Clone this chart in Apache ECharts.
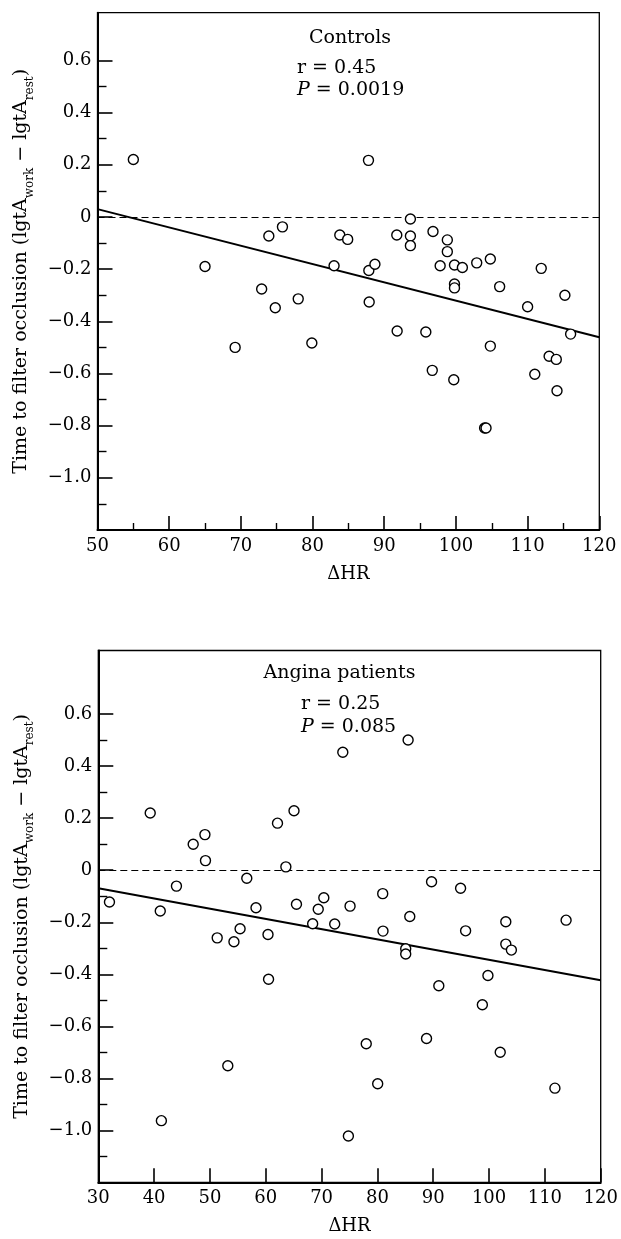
<!DOCTYPE html>
<html><head><meta charset="utf-8">
<script src="https://cdn.jsdelivr.net/npm/echarts@6/dist/echarts.min.js"></script>
<style>html,body{margin:0;padding:0;background:#fff}#c{width:621px;height:1239px}</style>
</head><body><div id="c"></div>
<script>
// ---- Controls panel data ----
const controlsHR = [55,65,69.2,72.9,73.9,74.8,75.8,78.0,79.9,83.0,83.8,84.9,87.8,87.85,88.7,87.9,91.75,91.8,93.65,93.65,93.65,95.8,96.8,96.7,97.8,98.8,98.8,99.8,100.9,99.8,99.8,99.7,102.9,104.8,104.8,104.0,104.2,106.1,110.0,111.0,111.9,113.0,114.0,114.1,115.2,116.0];
const controlsY = [0.22,-0.19,-0.50,-0.276,-0.073,-0.348,-0.038,-0.314,-0.483,-0.187,-0.069,-0.086,0.217,-0.205,-0.181,-0.326,-0.069,-0.437,-0.008,-0.073,-0.11,-0.441,-0.056,-0.588,-0.187,-0.088,-0.133,-0.184,-0.194,-0.257,-0.272,-0.624,-0.176,-0.161,-0.495,-0.809,-0.809,-0.267,-0.344,-0.603,-0.197,-0.534,-0.546,-0.666,-0.300,-0.449];
const controlsFitHR = [50,120];
const controlsFitY = [0.03,-0.461];
// ---- Angina panel data ----
const anginaHR = [32.0,39.3,41.1,41.3,44.0,47.0,49.1,49.2,51.3,53.2,54.3,55.4,56.6,58.25,60.4,60.5,62.1,63.6,65.06,65.5,68.4,69.4,70.4,72.35,73.8,74.8,75.1,78.0,80.05,80.95,81.0,85.07,85.07,85.5,85.8,88.8,89.7,91.0,94.9,95.8,98.8,99.8,102.0,103.0,103.0,104.0,111.8,113.8];
const anginaY = [-0.122,0.220,-0.157,-0.963,-0.061,0.100,0.137,0.037,-0.260,-0.752,-0.275,-0.225,-0.031,-0.144,-0.247,-0.419,0.181,0.013,0.229,-0.131,-0.206,-0.150,-0.106,-0.207,0.454,-1.022,-0.138,-0.667,-0.821,-0.090,-0.234,-0.302,-0.322,0.501,-0.178,-0.647,-0.044,-0.444,-0.069,-0.233,-0.517,-0.405,-0.700,-0.198,-0.284,-0.307,-0.838,-0.192];
const anginaFitHR = [30,120];
const anginaFitY = [-0.069,-0.423];
// ---- ticks ----
const yMajorTicks = [-1.0,-0.8,-0.6,-0.4,-0.2,0,0.2,0.4,0.6];
const yMinorTicks = [-1.1,-0.9,-0.7,-0.5,-0.3,-0.1,0.1,0.3,0.5];
const xMajorTicksTop = [50,60,70,80,90,100,110,120];
const xMinorTicksTop = [55,65,75,85,95,105,115];
const xMajorTicksBottom = [30,40,50,60,70,80,90,100,110,120];
const xMinorTicksBottom = [];
const panelTitles = ['Controls','Angina patients'];
const rTexts = ['r = 0.45','r = 0.25'];
const pTexts = [' = 0.0019',' = 0.085'];

const FONT = 'DejaVu Serif';
const pair = (a,b) => a.map((v,i)=>[v,b[i]]);
const yLabel = v => { if (Math.abs(v) < 1e-9) return '0'; return (v<0?'\u2212':'') + Math.abs(v).toFixed(1); };

function xAxes(gi, min, max, major, minor){
  return [
    {gridIndex:gi, type:'value', min, max, position:'bottom',
     axisLine:{show:true, onZero:false, lineStyle:{color:'#000', width:2}},
     axisTick:{show:true, inside:true, length:14, customValues:major, lineStyle:{color:'#000', width:1.6}},
     axisLabel:{show:true, customValues:major, margin:7, color:'#000', fontFamily:FONT, fontSize:18},
     splitLine:{show:false},
     name:'\u0394HR', nameLocation:'middle', nameGap:35, nameTextStyle:{color:'#000', fontFamily:FONT, fontSize:18}},
    {gridIndex:gi, type:'value', min, max, position:'bottom',
     axisLine:{show:false, onZero:false},
     axisTick:{show:minor.length>0, inside:true, length:7, customValues:minor.length?minor:[min], lineStyle:{color:'#000', width:1.4}},
     axisLabel:{show:false}, splitLine:{show:false}}
  ];
}
function yAxes(gi, min, max){
  return [
    {gridIndex:gi, type:'value', min, max, position:'left',
     axisLine:{show:true, onZero:false, lineStyle:{color:'#000', width:2}},
     axisTick:{show:true, inside:true, length:15, customValues:yMajorTicks, lineStyle:{color:'#000', width:1.6}},
     axisLabel:{show:true, customValues:yMajorTicks, margin:6, color:'#000', fontFamily:FONT, fontSize:18, formatter:yLabel},
     splitLine:{show:false},
     name:'{m|Time to filter occlusion (lgtA}{s|work}{m| \u2212 lgtA}{s|rest}{m|)}',
     nameLocation:'middle', nameGap:62, nameRotate:90,
     nameTextStyle:{color:'#000', fontFamily:FONT, fontSize:19,
       rich:{m:{fontFamily:FONT, fontSize:19, color:'#000', lineHeight:28, verticalAlign:'middle'},
             s:{fontFamily:FONT, fontSize:12, color:'#000', lineHeight:12, verticalAlign:'bottom'}}}},
    {gridIndex:gi, type:'value', min, max, position:'left',
     axisLine:{show:false, onZero:false},
     axisTick:{show:true, inside:true, length:9, customValues:yMinorTicks, lineStyle:{color:'#000', width:1.4}},
     axisLabel:{show:false}, splitLine:{show:false}}
  ];
}

function scatter(xi, yi, hr, y){
  return {type:'scatter', xAxisIndex:xi, yAxisIndex:yi, data:pair(hr,y), symbol:'circle', symbolSize:10,
    itemStyle:{color:'#fff', borderColor:'#000', borderWidth:1.4, opacity:1}, z:5,
    markLine:{silent:true, symbol:['none','none'], label:{show:false},
      lineStyle:{color:'#000', type:[7,4], width:1.2}, data:[{yAxis:0}]}};
}
function fit(xi, yi, hr, y){
  return {type:'line', xAxisIndex:xi, yAxisIndex:yi, data:pair(hr,y), symbol:'none',
    lineStyle:{color:'#000', width:2}, z:3};
}

const chart = echarts.init(document.getElementById('c'), null, {renderer:'canvas'});
const txt = (x,y,text,align) => ({type:'text', x, y, z:10,
  style:{text, fill:'#000', font:'19px "DejaVu Serif"', textAlign:align||'left', textVerticalAlign:'middle',
    rich:{i:{fontStyle:'italic', fontFamily:FONT, fontSize:19, fill:'#000'}, n:{fontFamily:FONT, fontSize:19, fill:'#000'}}}});

chart.setOption({
  animation:false,
  backgroundColor:'#fff',
  grid:[
    {left:97.5, top:12.7, right:21.7, bottom:709, show:true, borderColor:'#000', borderWidth:1.3, containLabel:false},
    {left:98.3, top:650.5, right:20.3, bottom:56.7, show:true, borderColor:'#000', borderWidth:1.3, containLabel:false}
  ],
  xAxis:[...xAxes(0,50,120,xMajorTicksTop,xMinorTicksTop), ...xAxes(1,30,120,xMajorTicksBottom,xMinorTicksBottom)],
  yAxis:[...yAxes(0,-1.2,0.783), ...yAxes(1,-1.2,0.845)],
  series:[
    fit(0,0,controlsFitHR,controlsFitY), scatter(0,0,controlsHR,controlsY),
    fit(2,2,anginaFitHR,anginaFitY), scatter(2,2,anginaHR,anginaY)
  ],
  graphic:[
    txt(350,38,panelTitles[0],'center'),
    txt(297,68,rTexts[0]),
    txt(297,90,'{i|P}{n|'+pTexts[0]+'}'),
    txt(339.5,673,panelTitles[1],'center'),
    txt(301,704,rTexts[1]),
    txt(301,727,'{i|P}{n|'+pTexts[1]+'}')
  ]
});
</script></body></html>
